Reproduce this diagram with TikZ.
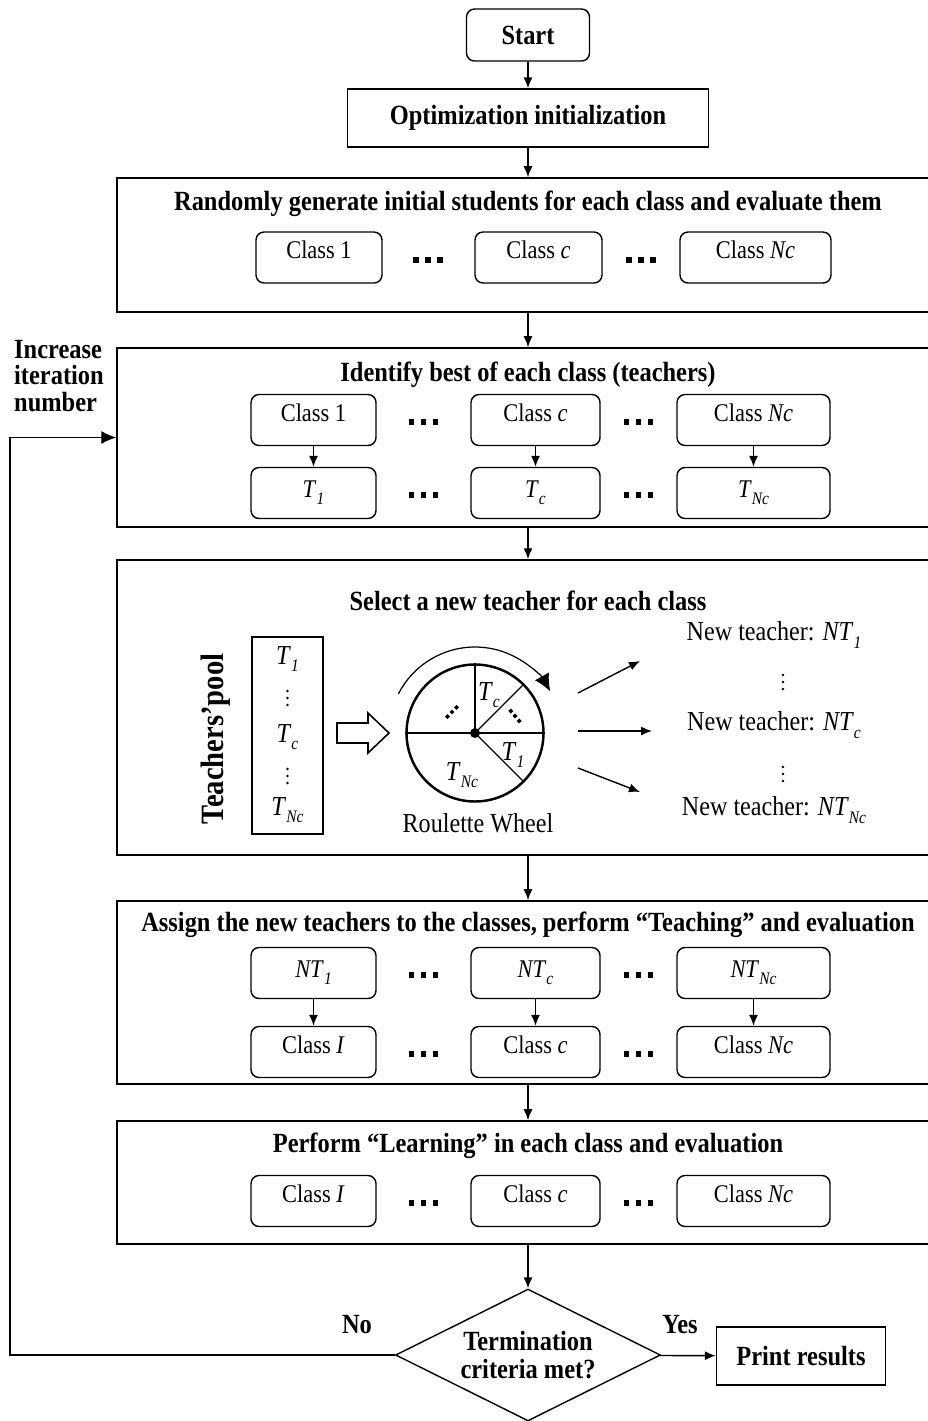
\documentclass[tikz,border=0pt]{standalone}
\usepackage{fontspec}
\setmainfont{Liberation Serif}[FakeStretch=0.88]
\usepackage{tikz}
\usetikzlibrary{shapes.geometric,arrows.meta,positioning}

\newcommand{\bodyfont}{\fontsize{14.5}{16}\selectfont}
\newcommand{\bigfont}{\fontsize{15.6}{17}\selectfont}
\newcommand{\headfont}{\fontsize{15.8}{16.2}\selectfont\bfseries}
\newcommand{\sub}[2]{\textit{#1}\raisebox{-0.6ex}{\fontsize{10}{10}\selectfont\textit{#2}}}
\newcommand{\sqdots}{\rule{0.11cm}{0.11cm}\hspace{0.13cm}\rule{0.11cm}{0.11cm}\hspace{0.13cm}\rule{0.11cm}{0.11cm}}
\newcommand{\smalldots}{\rule{0.07cm}{0.07cm}\hspace{0.06cm}\rule{0.07cm}{0.07cm}\hspace{0.06cm}\rule{0.07cm}{0.07cm}}

\tikzset{
  arrow/.style={-{Latex[length=2.2mm,width=1.8mm]},line width=0.8pt},
  panel/.style={draw,line width=0.9pt,minimum width=16.28cm,inner sep=0pt},
  classbox/.style={draw,rounded corners=0.16cm,line width=0.8pt,minimum height=1.02cm,
    font=\bodyfont,text height=0.35cm,text depth=0.3cm},
  teacherbox/.style={draw,rounded corners=0.16cm,line width=0.8pt,minimum height=1.02cm,font=\bodyfont},
  title/.style={font=\headfont},
  gapdots/.style={inner sep=0pt},
  plain/.style={font=\bigfont}
}

\begin{document}
\begin{tikzpicture}[x=0.02cm,y=0.02cm]
  \useasboundingbox (0,0) rectangle (928,-1421);

  % top of the flow
  \node[draw,rounded corners=0.16cm,line width=0.8pt,minimum width=2.46cm,minimum height=1.04cm,title] (start) at (528,-35) {Start};
  \node[draw,line width=0.8pt,minimum width=7.22cm,minimum height=1.16cm,title] (init) at (528,-118) {Optimization initialization};

  % panel 1
  \node[panel,minimum height=2.68cm] (p1) at (524,-245) {};
  \node[title] (t1) at (528,-204) {Randomly generate initial students for each class and evaluate them};
  \node[classbox,minimum width=2.52cm] (a1) at (319,-257.5) {Class 1};
  \node[classbox,minimum width=2.54cm] (ac) at (538.5,-257.5) {Class \textit{c}};
  \node[classbox,minimum width=3.02cm] (an) at (755.5,-257.5) {Class \textit{Nc}};
  \node[gapdots] at (428,-260) {\sqdots};
  \node[gapdots] at (641,-260) {\sqdots};

  % panel 2
  \node[panel,minimum height=3.58cm] (p2) at (524,-437.5) {};
  \node[title] (t2) at (528,-375) {Identify best of each class (teachers)};
  \node[classbox,minimum width=2.5cm]  (b1) at (313.5,-420) {Class 1};
  \node[classbox,minimum width=2.58cm] (bc) at (535.5,-420) {Class \textit{c}};
  \node[classbox,minimum width=3.06cm] (bn) at (753.5,-420) {Class \textit{Nc}};
  \node[teacherbox,minimum width=2.5cm]  (c1) at (313.5,-493) {\sub{T}{1}};
  \node[teacherbox,minimum width=2.58cm] (cc) at (535.5,-493) {\sub{T}{c}};
  \node[teacherbox,minimum width=3.06cm] (cn) at (753.5,-493) {\sub{T}{Nc}};
  \foreach \y in {-422,-495}{
    \node[gapdots] at (423.5,\y) {\sqdots};
    \node[gapdots] at (638.5,\y) {\sqdots};
  }
  \draw[arrow] (b1) -- (c1);
  \draw[arrow] (bc) -- (cc);
  \draw[arrow] (bn) -- (cn);

  \node[title,align=left,anchor=west] (inc) at (8,-376) {Increase\\[-1pt]iteration\\[-1pt]number};

  % panel 3
  \node[panel,minimum height=5.9cm] (p3) at (524,-707.5) {};
  \node[title] (t3) at (528,-601) {Select a new teacher for each class};
  \node[font=\fontsize{18.5}{19}\selectfont\bfseries,rotate=90] (poolname) at (216,-739) {Teachers’pool};
  \node[draw,line width=0.8pt,minimum width=1.42cm,minimum height=3.94cm] (pool) at (287.5,-735.5) {};
  \node[plain] (p1t) at (287.5,-659) {\sub{T}{1}};
  \node[plain] (pct) at (287.5,-737) {\sub{T}{c}};
  \node[plain] (pnt) at (287.5,-810) {\sub{T}{Nc}};
  % vertical dots
  \foreach \x/\y in {287.5/-698, 287.5/-776, 783/-682, 783/-774}
    \foreach \d in {-7,0,7}
      \fill (\x,\y+\d) circle (0.028cm);
  \draw[line width=0.9pt] (337,-723) -- (368,-723) -- (368,-713) -- (389,-733)
    -- (368,-753) -- (368,-743) -- (337,-743) -- cycle;

  \node[circle,draw,line width=1.4pt,minimum size=2.74cm,inner sep=0pt] (wheel) at (475,-733) {};
  \draw[line width=0.7pt] (wheel.west) -- (wheel.east);
  \draw[line width=0.7pt] (wheel.center) -- (wheel.north);
  \draw[line width=0.7pt] (wheel.center) -- (wheel.45);
  \draw[line width=0.7pt] (wheel.center) -- (wheel.-45);
  \fill (wheel.center) circle (0.1cm);
  \draw[line width=0.7pt,-{Latex[length=3.4mm,width=3.2mm]}] ([shift={(153:1.72cm)}]wheel.center) arc (153:29:1.72cm);
  \node[plain] at (489,-695) {\sub{T}{c}};
  \node[plain] at (513,-755) {\sub{T}{1}};
  \node[plain] at (462,-775) {\sub{T}{Nc}};
  \node[gapdots,rotate=45] at (452,-712) {\smalldots};
  \node[gapdots,rotate=-50] at (515,-716) {\smalldots};
  \node[plain] (rw) at (478,-823) {Roulette Wheel};

  \node[plain] (n1) at (774,-635) {New teacher: \sub{NT}{1}};
  \node[plain] (nc) at (774,-725) {New teacher: \sub{NT}{c}};
  \node[plain] (nn) at (774,-810) {New teacher: \sub{NT}{Nc}};
  \coordinate (o1) at (578,-693);
  \coordinate (oc) at (578,-731);
  \coordinate (on) at (578,-768);
  \coordinate (e1) at (640,-661);
  \coordinate (ec) at (652,-731);
  \coordinate (en) at (640,-792);
  \draw[arrow] (o1) -- (e1);
  \draw[arrow] (oc) -- (ec);
  \draw[arrow] (on) -- (en);

  % panel 4
  \node[panel,minimum height=3.66cm] (p4) at (524,-992.5) {};
  \node[title] (t4) at (528,-925) {Assign the new teachers to the classes, perform “Teaching” and evaluation};
  \node[teacherbox,minimum width=2.5cm]  (d1) at (313.5,-973) {\sub{NT}{1}};
  \node[teacherbox,minimum width=2.58cm] (dc) at (535.5,-973) {\sub{NT}{c}};
  \node[teacherbox,minimum width=3.06cm] (dn) at (753.5,-973) {\sub{NT}{Nc}};
  \node[classbox,minimum width=2.5cm]  (f1) at (313.5,-1052) {Class \textit{I}};
  \node[classbox,minimum width=2.58cm] (fc) at (535.5,-1052) {Class \textit{c}};
  \node[classbox,minimum width=3.06cm] (fn) at (753.5,-1052) {Class \textit{Nc}};
  \foreach \y in {-975,-1054}{
    \node[gapdots] at (423.5,\y) {\sqdots};
    \node[gapdots] at (638.5,\y) {\sqdots};
  }
  \draw[arrow] (d1) -- (f1);
  \draw[arrow] (dc) -- (fc);
  \draw[arrow] (dn) -- (fn);

  % panel 5
  \node[panel,minimum height=2.46cm] (p5) at (524,-1182.5) {};
  \node[title] (t5) at (528,-1146) {Perform “Learning” in each class and evaluation};
  \node[classbox,minimum width=2.5cm]  (g1) at (313.5,-1201) {Class \textit{I}};
  \node[classbox,minimum width=2.58cm] (gc) at (535.5,-1201) {Class \textit{c}};
  \node[classbox,minimum width=3.06cm] (gn) at (753.5,-1201) {Class \textit{Nc}};
  \node[gapdots] at (423.5,-1203) {\sqdots};
  \node[gapdots] at (638.5,-1203) {\sqdots};

  % decision
  \node[diamond,draw,line width=0.8pt,aspect=2,minimum width=5.3cm,minimum height=2.64cm,inner sep=0pt,
    align=center,title] (dec) at (528,-1355) {Termination\\criteria met?};
  \node[draw,line width=0.8pt,minimum width=3.38cm,minimum height=1.16cm,title] (print) at (801,-1356) {Print results};
  \node[title] at (357,-1325) {No};
  \node[title] at (680,-1325) {Yes};

  % main flow
  \draw[arrow] (start) -- (init);
  \draw[arrow] (init) -- (init |- p1.north);
  \draw[arrow] (init |- p1.south) -- (init |- p2.north);
  \draw[arrow] (init |- p2.south) -- (init |- p3.north);
  \draw[arrow] (init |- p3.south) -- (init |- p4.north);
  \draw[arrow] (init |- p4.south) -- (init |- p5.north);
  \draw[arrow] (init |- p5.south) -- (dec);
  \draw[arrow] (dec) -- (print);
  \coordinate (loop) at (10,-1355);
  \draw[-{Latex[length=3mm,width=2.6mm]},line width=0.8pt] (dec.west) -- (loop) |- (p2.west);
\end{tikzpicture}
\end{document}
